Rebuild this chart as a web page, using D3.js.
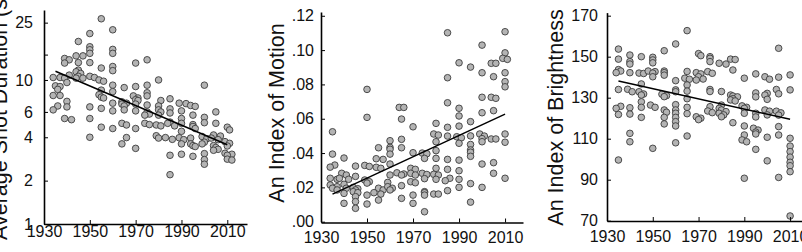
<!doctype html>
<html>
<head>
<meta charset="utf-8">
<script src="https://d3js.org/d3.v7.min.js"></script>
<style>
  body { margin: 0; background: #fff; }
  svg text { font-family: "Liberation Sans", Arial, sans-serif; fill: #111; }
</style>
</head>
<body>
<svg id="svg1" width="802" height="252"></svg>
<script>
// ---- data ----
const yearTicks = [1930, 1950, 1970, 1990, 2010];

// average shot duration (s), [year, value]
const shotDuration = [
  [1934,10.4],[1937,10.4],[1935,9.1],[1937,9.0],[1936,8.6],[1934,7.8],[1937,7.8],[1936,6.6],[1934,6.2],
  [1939,14.1],[1941,13.8],[1939,13.1],[1941,10.8],[1939,10.3],[1940,9.6],[1940,7.1],[1940,6.5],[1939,5.4],[1942,5.3],
  [1945,18.5],[1944,14.7],[1947,14.7],[1945,13.2],[1945,11.7],[1944,11.4],[1946,11.1],[1945,10.6],[1947,10.3],[1944,10.3],
  [1950,21],[1950,17],[1950,16.2],[1950,15.3],[1950,13.2],[1950,10.6],[1952,10.4],[1950,6.5],[1950,5.4],[1950,4.0],
  [1955,26.6],[1955,12.1],[1954,10],[1956,9.8],[1955,8.5],[1954,7.9],[1955,7.6],[1956,7.5],[1955,6.35],[1955,4.7],
  [1960,22.3],[1960,16.3],[1960,15.3],[1960,12.4],[1960,11.6],[1960,9.2],[1960,8.3],[1960,6.9],[1960,6.1],[1960,4.6],
  [1965,8.85],[1964,7.05],[1966,6.9],[1964,6.8],[1965,6.6],[1965,6.2],[1964,5.0],[1966,4.87],[1966,3.98],[1964,3.6],
  [1970,13.1],[1970,9.0],[1969,7.75],[1971,7.5],[1970,7.3],[1971,7.2],[1970,6.8],[1970,6.1],[1970,4.6],[1970,3.35],
  [1975,13.8],[1975,9.2],[1975,8.15],[1975,7.75],[1975,6.7],[1975,6.0],[1976,5.8],[1974,5.7],[1974,5.0],[1976,4.9],
  [1980,10.0],[1981,7.2],[1980,6.6],[1980,6.2],[1981,6.0],[1980,5.7],[1979,4.87],[1981,4.8],[1979,4.1],[1980,3.95],
  [1985,7.4],[1985,6.3],[1985,5.9],[1985,5.1],[1984,5.0],[1987,4.8],[1983,3.98],[1986,3.87],[1985,3.0],[1985,2.2],
  [1989,6.9],[1992,6.85],[1990,6.1],[1990,5.4],[1990,5.0],[1990,4.4],[1989,3.97],[1991,3.85],[1990,3.6],[1990,3.05],
  [1994,6.65],[1996,6.55],[1995,5.7],[1995,4.9],[1995,4.75],[1996,4.6],[1994,3.95],[1994,3.6],[1995,3.5],[1996,3.45],[1995,2.95],
  [2000,9.2],[2000,5.5],[2000,5.05],[1999,4.05],[2001,3.9],[2000,3.7],[1999,3.6],[2000,3.08],[2000,2.8],[2000,2.6],
  [2005,6.0],[2005,5.0],[2004,4.15],[2007,4.08],[2003,3.95],[2006,3.85],[2004,3.5],[2005,3.4],[2006,3.3],[2004,3.25],
  [2010,4.7],[2011,4.5],[2009,3.73],[2011,3.63],[2010,3.48],[2009,3.1],[2012,3.05],[2010,3.0],[2010,2.82],[2012,2.78]
];
const shotTrend = [[1935, 11.5], [2010, 3.55]];
const shotTicks = [1, 2, 4, 6, 10, 15, 25];
const shotLabels = [1, 2, 4, 6, 10, 25];

// index of motion
const motion = [
  [1935,.0524],[1935,.0394],[1936,.0330],[1934,.0318],[1934,.0253],[1937,.0247],[1934,.0214],[1937,.0204],[1935,.0195],[1937,.0185],
  [1940,.0371],[1939,.0282],[1941,.0272],[1938,.0253],[1942,.0247],[1940,.0218],[1941,.0195],[1940,.0165],[1940,.0107],
  [1945,.0324],[1945,.0264],[1944,.0200],[1946,.0192],[1945,.0185],[1944,.0175],[1946,.0169],[1945,.0146],[1945,.0117],[1945,.0078],
  [1950,.0771],[1950,.0608],[1949,.0328],[1951,.0322],[1949,.0243],[1951,.0233],[1950,.0225],[1950,.0155],[1950,.0103],
  [1955,.0431],[1954,.0367],[1957,.0363],[1954,.0317],[1956,.0311],[1955,.0195],[1957,.0185],[1953,.0169],[1956,.0161],[1955,.0126],
  [1960,.0472],[1960,.0433],[1960,.0422],[1960,.0394],[1960,.0336],[1960,.0272],[1959,.0229],[1959,.0204],[1961,.0195],[1960,.0185],
  [1964,.0666],[1966,.0666],[1965,.0598],[1965,.0480],[1965,.0431],[1963,.0285],[1966,.0278],[1965,.0272],[1965,.0210],[1965,.0136],
  [1970,.0553],[1970,.0402],[1969,.0311],[1971,.0305],[1969,.0282],[1971,.0272],[1969,.0233],[1971,.0227],[1970,.0155],[1970,.0107],
  [1974,.0400],[1976,.0396],[1975,.0369],[1974,.0282],[1976,.0275],[1975,.0251],[1975,.0175],[1975,.0169],[1975,.0155],[1975,.0058],
  [1980,.0573],[1979,.0511],[1981,.0505],[1980,.0466],[1980,.0414],[1980,.0369],[1980,.0311],[1979,.0276],[1981,.0272],[1980,.0247],[1979,.0161],[1981,.0161],
  [1985,.1101],[1985,.0839],[1985,.0693],[1985,.0550],[1985,.0499],[1985,.0363],[1985,.0305],[1986,.0253],[1984,.0239],[1985,.0181],
  [1990,.0926],[1990,.0661],[1990,.0616],[1990,.0557],[1989,.0495],[1991,.0489],[1990,.0457],[1990,.0359],[1990,.0297],[1990,.0247],[1990,.0200],
  [1995,.0901],[1995,.0583],[1995,.0500],[1995,.0450],[1995,.0418],[1995,.0405],[1995,.0381],[1995,.0222],[1995,.0114],
  [2000,.1029],[2000,.0868],[2000,.0725],[2000,.0635],[1999,.0511],[2001,.0499],[2000,.0484],[2000,.0466],[2000,.0336],[2000,.0200],
  [2004,.0923],[2006,.0923],[2005,.0845],[2004,.0725],[2006,.0719],[2005,.0647],[2004,.0482],[2006,.0482],[2005,.0344],[2005,.0282],
  [2010,.1107],[2010,.0984],[2009,.0952],[2011,.0946],[2010,.0868],[2010,.0816],[2010,.0786],[2010,.0511],[2010,.0463],[2010,.0253]
];
const motionTrend = [[1935, 0.0161], [2010, 0.0627]];
const motionTicks = [0, .02, .04, .06, .08, .10, .12];

// index of brightness
const brightness = [
  [1935,153.7],[1935,148.8],[1935,143.7],[1936,143],[1934,142.2],[1935,134],[1936,125.8],[1934,124.8],[1935,121.8],[1935,99.6],
  [1940,150.8],[1940,147.6],[1940,146.4],[1940,142.2],[1939,134.1],[1941,132.9],[1940,125.1],[1940,122],[1940,112.6],[1940,108.5],
  [1945,150],[1944,142],[1946,141.8],[1945,136.7],[1944,132.9],[1946,131.8],[1945,131.3],[1945,128],[1945,125.3],[1945,120.4],
  [1950,149.7],[1950,148.4],[1950,147],[1948,143],[1951,142.7],[1950,142],[1950,140.2],[1949,126.4],[1951,125.3],[1950,105.3],
  [1955,152.9],[1955,143],[1955,142.2],[1955,141],[1954,131.7],[1956,131],[1955,130.5],[1955,124],[1956,122.9],[1955,120.4],[1955,117.2],
  [1960,156.2],[1960,138.3],[1960,133.8],[1960,132.9],[1960,126.6],[1960,124],[1960,122.4],[1960,120.4],[1960,118.3],[1960,116.2],[1960,108],
  [1965,162.7],[1965,142.8],[1964,139.5],[1966,139],[1965,136.2],[1965,133.2],[1965,129.5],[1965,125.3],[1965,122.2],[1965,111.3],
  [1970,151.5],[1971,150.5],[1969,142.2],[1971,141.6],[1970,140.2],[1972,139.1],[1969,138.6],[1969,120.7],[1971,120],[1970,119.3],
  [1975,150],[1975,149.2],[1975,147.6],[1974,142.7],[1976,141.9],[1975,134],[1975,133],[1975,125.6],[1974,123.5],[1976,122.7],
  [1979,146.8],[1982,146.4],[1980,133],[1980,126.4],[1979,124.8],[1980,124],[1982,123.2],[1979,122.4],[1981,121.6],[1980,120.7],
  [1984,148.8],[1986,148.6],[1985,143.5],[1984,131.3],[1985,130.8],[1987,130.4],[1985,129.5],[1984,128.9],[1986,128.4],[1985,117.8],
  [1990,139.5],[1989,126],[1991,125.3],[1990,124.8],[1990,122.4],[1990,116.2],[1990,111.8],[1989,109.4],[1991,108.5],[1990,90.7],
  [1995,141.6],[1995,132.3],[1995,130.4],[1995,122.4],[1995,120.6],[1994,115.1],[1996,114.2],[1995,113.2],[1995,112.3],[1995,104.8],
  [1999,140.2],[2001,139],[2000,132.1],[1999,131.3],[2000,129.2],[1999,124],[2001,123.4],[2000,121.6],[2000,110.7],[2000,99.2],
  [2005,154.1],[2005,140],[2004,134],[2005,131.9],[2004,123.4],[2006,122.6],[2005,121.5],[2005,115.9],[2005,111.8],[2005,91.1],
  [2010,141.1],[2010,133.8],[2010,110.2],[2010,106.4],[2010,103.7],[2010,101],[2010,98.5],[2010,96.8],[2010,93.9],[2010,72.3]
];
const brightTrend = [[1935, 138.1], [2010, 119.5]];
const brightTicks = [70, 90, 110, 130, 150, 170];

// ---- drawing ----
const svg = d3.select("#svg1");

function panel(o) {
  const g = svg.append("g");

  // points
  g.append("g").selectAll("circle")
    .data(o.data)
    .join("circle")
    .attr("cx", d => o.x(d[0]))
    .attr("cy", d => o.y(d[1]))
    .attr("r", 3.3)
    .attr("fill", "#b4b4b4")
    .attr("stroke", "#3c3c3c")
    .attr("stroke-width", 0.9);

  // trend line
  g.append("path")
    .datum(o.trend)
    .attr("d", d3.line().x(d => o.x(d[0])).y(d => o.y(d[1])))
    .attr("fill", "none")
    .attr("stroke", "#000")
    .attr("stroke-width", 1.5);

  const yAx = g.append("g")
    .attr("transform", `translate(${o.x.range()[0]},0)`)
    .call(d3.axisLeft(o.y).tickValues(o.yTicks).tickFormat(o.yFormat)
      .tickSize(-4).tickSizeOuter(0).tickPadding(o.yPad));

  const xAx = g.append("g")
    .attr("transform", `translate(0,${o.xAxisY})`)
    .call(d3.axisBottom(o.x).tickValues(yearTicks).tickFormat(d3.format("d"))
      .tickSize(-4).tickSizeOuter(0).tickPadding(o.xPad));

  [xAx, yAx].forEach(a => {
    a.select(".domain").attr("stroke", "#000").attr("stroke-width", 1.6);
    a.selectAll(".tick line").attr("stroke", "#000").attr("stroke-width", 1);
    a.selectAll(".tick text").attr("font-size", 16).attr("fill", "#111")
      .attr("font-family", "Liberation Sans, Arial, sans-serif");
  });

  g.append("text")
    .attr("transform", `translate(${o.titleX},${o.titleY}) rotate(-90)`)
    .attr("text-anchor", o.titleAnchor)
    .attr("font-size", 21.5)
    .text(o.title);
}

// panel 1: shot duration, log scale
panel({
  data: shotDuration, trend: shotTrend,
  x: d3.scaleLinear().domain([1930, 2018.6]).range([44, 247]),
  y: d3.scaleLog().domain([1, 30.6]).range([224, 10]),
  yTicks: shotTicks,
  yFormat: d => shotLabels.includes(d) ? String(d) : "",
  yPad: 11, xPad: 2, xAxisY: 224,
  title: "Average Shot Duration (s)", titleX: 7, titleY: 240, titleAnchor: "start"
});

// panel 2: motion
panel({
  data: motion, trend: motionTrend,
  x: d3.scaleLinear().domain([1930, 2017.8]).range([321, 523]),
  y: d3.scaleLinear().domain([0, 0.1222]).range([221.7, 12]),
  yTicks: motionTicks,
  yFormat: d => d3.format(".2f")(d).replace(/^0/, ""),
  yPad: 7, xPad: 9, xAxisY: 222.5,
  title: "An Index of Motion", titleX: 284, titleY: 113, titleAnchor: "middle"
});

// panel 3: brightness
panel({
  data: brightness, trend: brightTrend,
  x: d3.scaleLinear().domain([1930, 2015.2]).range([607, 802]),
  y: d3.scaleLinear().domain([70, 171.5]).range([220.7, 12.6]),
  yTicks: brightTicks,
  yFormat: d3.format("d"),
  yPad: 9, xPad: 10, xAxisY: 221,
  title: "An Index of Brightness", titleX: 563, titleY: 117.5, titleAnchor: "middle"
});
</script>
</body>
</html>
